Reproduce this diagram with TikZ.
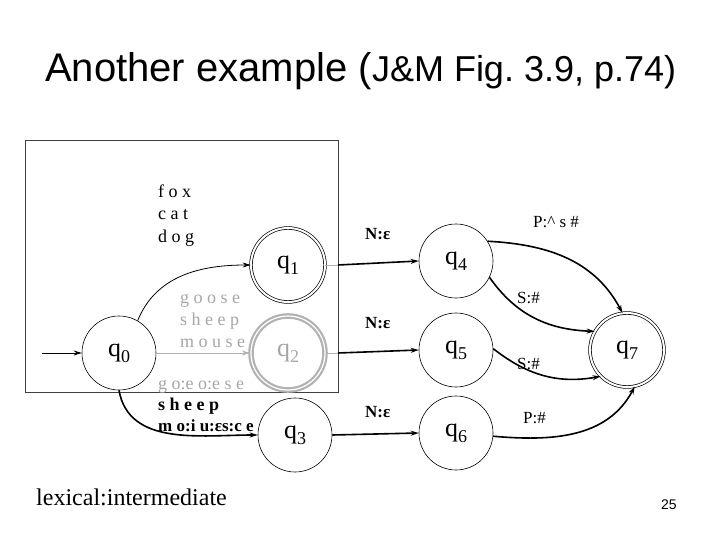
\documentclass[tikz,border=0pt]{standalone}
\usepackage{fontspec}
\setmainfont{Liberation Serif}
\newfontfamily\arialf{Liberation Sans}
\usetikzlibrary{shapes.geometric,arrows.meta}
\newcommand{\qst}[1]{{\fontsize{26}{26}\selectfont q\raisebox{-0.22em}{\fontsize{18}{18}\selectfont #1}}}
\frenchspacing
\begin{document}
\begin{tikzpicture}[x=1pt,y=-1pt,
  st/.style={ellipse,draw,line width=0.6pt,minimum width=74pt,minimum height=74pt,inner sep=0pt},
  acc/.style={st,double,double distance=2pt,line width=0.7pt},
  grayacc/.style={st,draw=black!30,double=white,double distance=1.2pt,line width=2.2pt,text=black!35},
  tip/.style={-{Stealth[length=8pt,width=5pt]}},
  thinedge/.style={tip,line width=0.8pt},
  thickedge/.style={tip,line width=1.6pt},
  grayedge/.style={draw=black!30,line width=0.8pt},
  lab/.style={anchor=base west,inner sep=0pt,font=\fontsize{18}{18}\selectfont},
  graylab/.style={lab,text=black!35},
  elab/.style={anchor=base west,inner sep=0pt,font=\fontsize{17}{17}\selectfont}
]
\useasboundingbox (0,0) rectangle (720,540);
% title
\node[anchor=base west,inner sep=0pt] (title) at (45,82) {\arialf\fontsize{40}{40}\selectfont Another example (\fontsize{36}{36}\selectfont J\&M Fig. 3.9, p.74)};
% box
\draw[black!75,line width=0.8pt] (25,140) rectangle (338,392);
% states
\node[st] (q0) at (119,353) {\qst{0}};
\node[acc] (q1) at (288,265) {\qst{1}};
\node[grayacc] (q2) at (288,353) {\qst{2}};
\node[st] (q3) at (295,435) {\qst{3}};
\node[st] (q4) at (456,261) {\qst{4}};
\node[st] (q5) at (456,350) {\qst{5}};
\node[st] (q6) at (456,433) {\qst{6}};
\node[acc] (q7) at (627,350) {\qst{7}};
% start arrow
\coordinate (start) at (42,353);
\draw[thinedge] (start) -- (q0);
% box-edge coordinates
\coordinate (b1) at (338,265);
\coordinate (b2) at (338,353);
% edges
\draw[thinedge] (q0.60) to[out=68,in=180] (q1.west);
\draw[grayedge,tip] (q0.east) -- (q2.west);
\draw[thickedge] (q0.south) to[out=-80,in=180] (q3.west);
\draw[grayedge] (q1.east) -- (b1);
\draw[thickedge] (b1) -- (q4.west);
\draw[grayedge] (q2.east) -- (b2);
\draw[thickedge] (b2) -- (q5.west);
\draw[thickedge] (q3.east) -- (q6.west);
\draw[thickedge] (q4.32) to[out=-3,in=118] (q7.97);
\draw[thickedge] (q4.-26) to[out=-55,in=178] (q7.150);
\draw[thickedge] (q5.2) to[out=-38,in=190] (q7.-135);
\draw[thickedge] (q6.-5) to[out=-5,in=-118] (q7.-78);
% labels
\node[lab] (l1) at (158,198) {f o x};
\node[lab] (l2) at (158,220) {c a t};
\node[lab] (l3) at (158,242) {d o g};
\node[graylab] (g1) at (180,303) {g o o s e};
\node[graylab] (g2) at (180,325) {s h e e p};
\node[graylab] (g3) at (180,347) {m o u s e};
\node[graylab] (g4) at (158,389) {g o:e o:e s e};
\node[lab,font=\fontsize{18}{18}\selectfont\bfseries] (s1) at (158,410) {s h e e p};
\node[lab,font=\fontsize{17}{17}\selectfont\bfseries] (s2) at (158,431) {m o:i u:εs:c e};
\node[elab,font=\fontsize{17}{17}\selectfont\bfseries] (n1) at (365,240) {N:ε};
\node[elab,font=\fontsize{17}{17}\selectfont\bfseries] (n2) at (365,328) {N:ε};
\node[elab,font=\fontsize{17}{17}\selectfont\bfseries] (n3) at (365,417) {N:ε};
\node[elab] (p1) at (533,227) {P:\^{} s \#};
\node[elab] (s3) at (517,303) {S:\#};
\node[elab] (s4) at (517,369) {S:\#};
\node[elab] (p2) at (523,423) {P:\#};
\node[anchor=base west,inner sep=0pt,font=\fontsize{24}{24}\selectfont] (lex) at (36,505) {lexical:intermediate};
\node[anchor=base west,inner sep=0pt,font=\arialf\fontsize{14}{14}\selectfont] (pg) at (661,509) {25};
\end{tikzpicture}
\end{document}
